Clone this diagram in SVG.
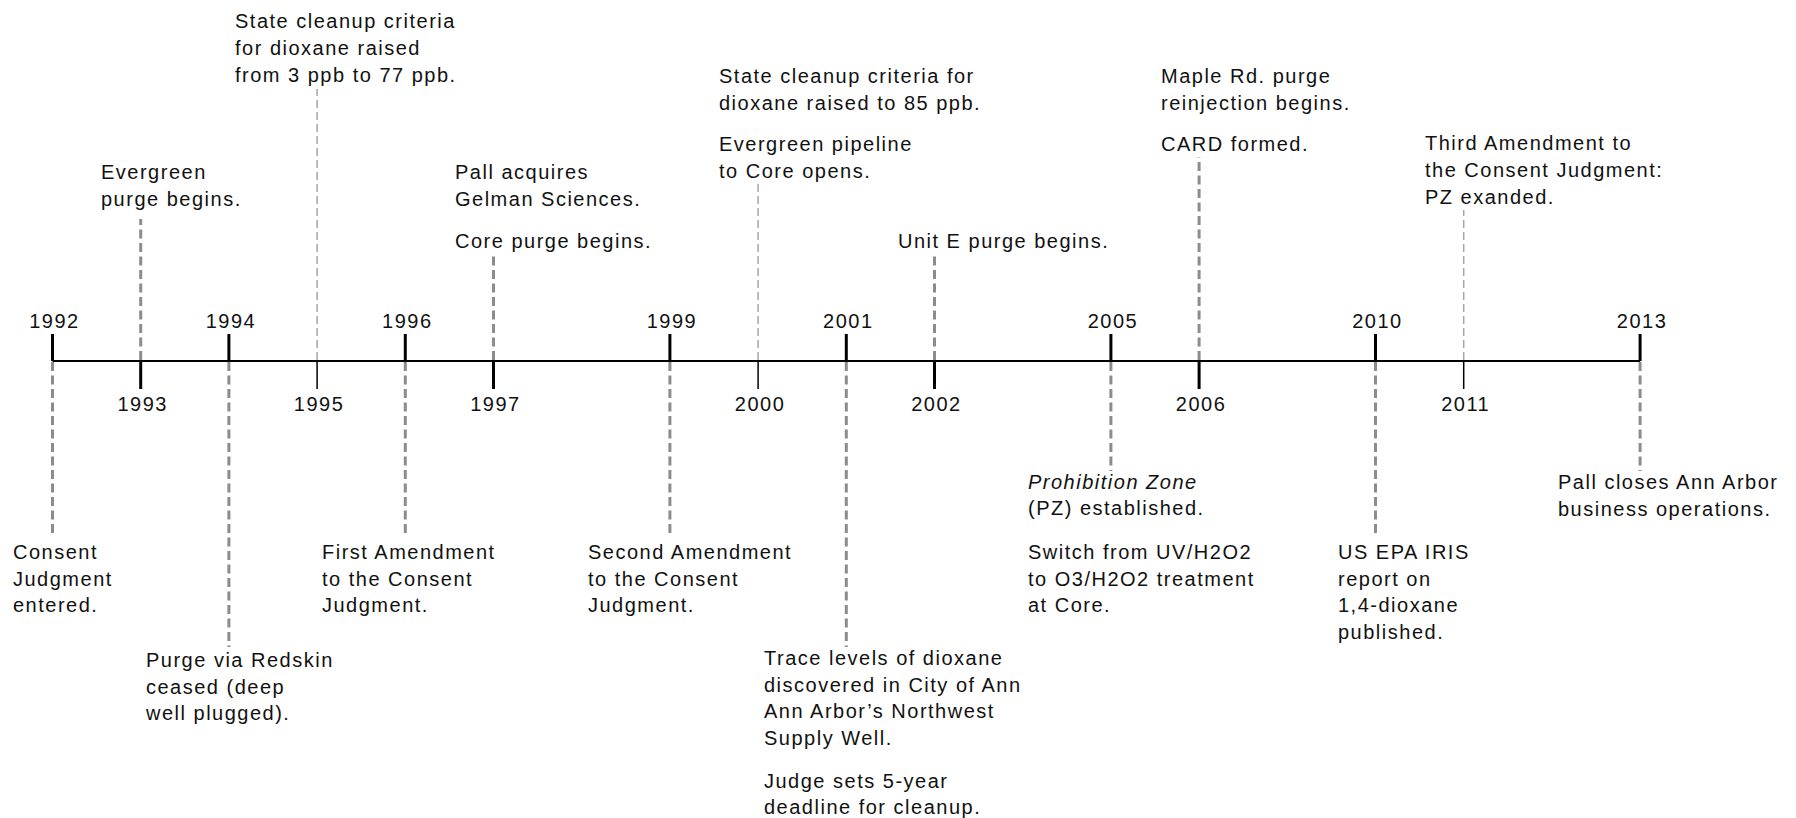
<svg xmlns="http://www.w3.org/2000/svg" width="1796" height="818" viewBox="0 0 1796 818">
<style>
  text { font-family: "Liberation Sans", Arial, sans-serif; font-size: 20px; letter-spacing: 1.5px; fill: #111; }
  .yr { text-anchor: middle; }
  .it { font-style: italic; }
  .axis { stroke: #000; stroke-width: 2; fill: none; }
  .tick { stroke: #000; stroke-width: 3; }
  .tick-thin { stroke: #000; stroke-width: 1.5; }
  .dash { stroke: #8c8c8c; stroke-width: 3; stroke-dasharray: 9 4.5; fill: none; }
  .dash-thin { stroke: #a6a6a6; stroke-width: 1.5; stroke-dasharray: 8 4; fill: none; }
</style>
<rect width="1796" height="818" fill="#fff"/>

<g id="axis">
  <line class="axis" x1="52.5" y1="361" x2="1640.1" y2="361"/>
  <!-- up ticks -->
  <line class="tick" x1="52.5" y1="334" x2="52.5" y2="361"/>
  <line class="tick" x1="228.9" y1="334" x2="228.9" y2="361"/>
  <line class="tick" x1="405.3" y1="334" x2="405.3" y2="361"/>
  <line class="tick" x1="669.9" y1="334" x2="669.9" y2="361"/>
  <line class="tick" x1="846.3" y1="334" x2="846.3" y2="361"/>
  <line class="tick" x1="1110.9" y1="334" x2="1110.9" y2="361"/>
  <line class="tick" x1="1375.5" y1="334" x2="1375.5" y2="361"/>
  <line class="tick" x1="1640.1" y1="334" x2="1640.1" y2="361"/>
  <!-- down ticks -->
  <line class="tick" x1="140.7" y1="361" x2="140.7" y2="389"/>
  <line class="tick-thin" x1="317.1" y1="361" x2="317.1" y2="389"/>
  <line class="tick" x1="493.5" y1="361" x2="493.5" y2="389"/>
  <line class="tick-thin" x1="758.1" y1="361" x2="758.1" y2="389"/>
  <line class="tick" x1="934.5" y1="361" x2="934.5" y2="389"/>
  <line class="tick" x1="1199.1" y1="361" x2="1199.1" y2="389"/>
  <line class="tick-thin" x1="1463.7" y1="361" x2="1463.7" y2="389"/>
  <!-- year labels -->
  <text class="yr" x="54.5" y="328">1992</text>
  <text class="yr" x="142.7" y="410.5">1993</text>
  <text class="yr" x="230.9" y="328">1994</text>
  <text class="yr" x="319.1" y="410.5">1995</text>
  <text class="yr" x="407.3" y="328">1996</text>
  <text class="yr" x="495.5" y="410.5">1997</text>
  <text class="yr" x="671.9" y="328">1999</text>
  <text class="yr" x="760.1" y="410.5">2000</text>
  <text class="yr" x="848.3" y="328">2001</text>
  <text class="yr" x="936.5" y="410.5">2002</text>
  <text class="yr" x="1112.9" y="328">2005</text>
  <text class="yr" x="1201.1" y="410.5">2006</text>
  <text class="yr" x="1377.5" y="328">2010</text>
  <text class="yr" x="1465.7" y="410.5">2011</text>
  <text class="yr" x="1642.1" y="328">2013</text>
</g>

<g id="connectors">
  <line class="dash" x1="52.5" y1="362" x2="52.5" y2="537"/>
  <line class="dash" x1="140.7" y1="360" x2="140.7" y2="219"/>
  <line class="dash" x1="228.9" y1="362" x2="228.9" y2="647"/>
  <line class="dash-thin" x1="317.1" y1="360" x2="317.1" y2="89"/>
  <line class="dash" x1="405.3" y1="362" x2="405.3" y2="537"/>
  <line class="dash" x1="493.5" y1="360" x2="493.5" y2="253"/>
  <line class="dash" x1="669.9" y1="362" x2="669.9" y2="537"/>
  <line class="dash-thin" x1="758.1" y1="360" x2="758.1" y2="184"/>
  <line class="dash" x1="846.3" y1="362" x2="846.3" y2="647"/>
  <line class="dash" x1="934.5" y1="360" x2="934.5" y2="253"/>
  <line class="dash" x1="1110.9" y1="362" x2="1110.9" y2="471"/>
  <line class="dash" x1="1199.1" y1="360" x2="1199.1" y2="157"/>
  <line class="dash" x1="1375.5" y1="362" x2="1375.5" y2="537"/>
  <line class="dash-thin" x1="1463.7" y1="360" x2="1463.7" y2="210"/>
  <line class="dash" x1="1640.1" y1="362" x2="1640.1" y2="471"/>
</g>

<g id="ev-1992">
  <text x="13" y="559">Consent</text>
  <text x="13" y="586">Judgment</text>
  <text x="13" y="612">entered.</text>
</g>
<g id="ev-1993">
  <text x="101" y="179">Evergreen</text>
  <text x="101" y="206">purge begins.</text>
</g>
<g id="ev-1994">
  <text x="146" y="667">Purge via Redskin</text>
  <text x="146" y="694">ceased (deep</text>
  <text x="146" y="720">well plugged).</text>
</g>
<g id="ev-1995">
  <text x="235" y="28">State cleanup criteria</text>
  <text x="235" y="55">for dioxane raised</text>
  <text x="235" y="82">from 3 ppb to 77 ppb.</text>
</g>
<g id="ev-1996">
  <text x="322" y="559">First Amendment</text>
  <text x="322" y="586">to the Consent</text>
  <text x="322" y="612">Judgment.</text>
</g>
<g id="ev-1997">
  <text x="455" y="179">Pall acquires</text>
  <text x="455" y="206">Gelman Sciences.</text>
  <text x="455" y="248">Core purge begins.</text>
</g>
<g id="ev-1999">
  <text x="588" y="559">Second Amendment</text>
  <text x="588" y="586">to the Consent</text>
  <text x="588" y="612">Judgment.</text>
</g>
<g id="ev-2000">
  <text x="719" y="83">State cleanup criteria for</text>
  <text x="719" y="110">dioxane raised to 85 ppb.</text>
  <text x="719" y="151">Evergreen pipeline</text>
  <text x="719" y="178">to Core opens.</text>
</g>
<g id="ev-2001">
  <text x="764" y="665">Trace levels of dioxane</text>
  <text x="764" y="692">discovered in City of Ann</text>
  <text x="764" y="718">Ann Arbor’s Northwest</text>
  <text x="764" y="745">Supply Well.</text>
  <text x="764" y="788">Judge sets 5-year</text>
  <text x="764" y="814">deadline for cleanup.</text>
</g>
<g id="ev-2002">
  <text x="898" y="248">Unit E purge begins.</text>
</g>
<g id="ev-2005">
  <text class="it" x="1028" y="489">Prohibition Zone</text>
  <text x="1028" y="515">(PZ) established.</text>
  <text x="1028" y="559">Switch from UV/H2O2</text>
  <text x="1028" y="586">to O3/H2O2 treatment</text>
  <text x="1028" y="612">at Core.</text>
</g>
<g id="ev-2006">
  <text x="1161" y="83">Maple Rd. purge</text>
  <text x="1161" y="110">reinjection begins.</text>
  <text x="1161" y="151">CARD formed.</text>
</g>
<g id="ev-2010">
  <text x="1338" y="559">US EPA IRIS</text>
  <text x="1338" y="586">report on</text>
  <text x="1338" y="612">1,4-dioxane</text>
  <text x="1338" y="639">published.</text>
</g>
<g id="ev-2011">
  <text x="1425" y="150">Third Amendment to</text>
  <text x="1425" y="177">the Consent Judgment:</text>
  <text x="1425" y="204">PZ exanded.</text>
</g>
<g id="ev-2013">
  <text x="1558" y="489">Pall closes Ann Arbor</text>
  <text x="1558" y="516">business operations.</text>
</g>
</svg>
